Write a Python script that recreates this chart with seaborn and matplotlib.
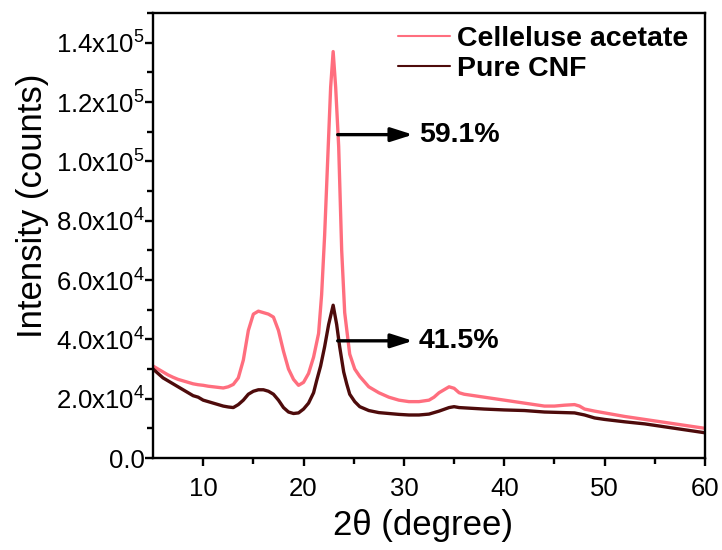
import matplotlib
matplotlib.use("Agg")
import matplotlib.pyplot as plt
import seaborn as sns
import pandas as pd

# ---------------- data ----------------
two_theta_ca = [5, 5.5, 6, 6.5, 7, 7.5, 8, 8.5, 9, 9.5, 10, 10.5, 11, 11.5, 12, 12.5, 13,
                13.5, 14, 14.5, 15, 15.5, 16, 16.5, 17, 17.5, 18, 18.5, 19, 19.5, 20, 20.5,
                21, 21.5, 21.8, 22.1, 22.4, 22.7, 22.95, 23.2, 23.5, 23.8, 24.1, 24.6, 25.1,
                25.6, 26.5, 27.5, 28.5, 29.5, 30.5, 31.5, 32.5, 33, 33.5, 34, 34.5, 35, 35.5,
                36, 37, 38, 39, 40, 41, 42, 43, 44, 45, 46, 47, 47.5, 48, 49, 50, 51, 52, 53,
                54, 55, 56, 57, 58, 59, 60]
intensity_ca = [31000, 30000, 29000, 28000, 27200, 26500, 26000, 25500, 25000, 24700, 24500,
                24200, 24000, 23800, 23600, 24000, 24800, 27000, 33000, 43000, 48500, 49500,
                49000, 48500, 47500, 43000, 36000, 30000, 26500, 24500, 25500, 28500, 34000,
                42000, 55000, 75000, 100000, 125000, 137000, 125000, 105000, 70000, 49000,
                35000, 30000, 27500, 24000, 22000, 20500, 19500, 19000, 19000, 19500, 20500,
                22000, 23000, 24000, 23500, 22000, 21500, 21000, 20500, 20000, 19500, 19000,
                18500, 18000, 17500, 17500, 17800, 18000, 17500, 16500, 15800, 15200, 14600,
                14000, 13500, 13000, 12500, 12000, 11500, 11000, 10500, 10000]

two_theta_cnf = [5, 5.5, 6, 6.5, 7, 7.5, 8, 8.5, 9, 9.5, 10, 10.5, 11, 11.5, 12, 12.5, 13,
                 13.5, 14, 14.5, 15, 15.5, 16, 16.5, 17, 17.5, 18, 18.5, 19, 19.5, 20, 20.5,
                 21, 21.3, 21.7, 22.1, 22.5, 22.95, 23.3, 23.6, 24.0, 24.3, 24.6, 25.1, 25.6,
                 26.5, 27.5, 28.5, 29.5, 30.5, 31.5, 32.5, 33.5, 34.5, 35, 35.5, 36.5, 38, 40,
                 42, 44, 46, 47, 48, 49, 50, 52, 54, 56, 58, 60]
intensity_cnf = [30000, 28500, 27000, 26000, 25000, 24000, 23000, 22000, 21000, 20500, 19500,
                 19000, 18500, 18000, 17500, 17200, 17000, 18000, 19500, 21500, 22500, 23000,
                 23000, 22500, 21500, 19500, 17000, 15500, 15000, 15200, 16500, 18500, 22000,
                 26000, 31000, 37500, 45000, 51500, 45000, 37500, 29000, 25000, 21500, 19000,
                 17300, 16000, 15300, 15000, 14700, 14500, 14500, 14800, 15800, 17000, 17300,
                 17000, 16800, 16500, 16200, 16000, 15500, 15300, 15200, 14500, 13500, 13000,
                 12200, 11500, 10500, 9500, 8500]

series_names = ["Celleluse acetate", "Pure CNF"]
y_tick_values = [0, 20000, 40000, 60000, 80000, 100000, 120000, 140000]
y_tick_labels = ["0.0", "2.0x10$^4$", "4.0x10$^4$", "6.0x10$^4$", "8.0x10$^4$",
                 "1.0x10$^5$", "1.2x10$^5$", "1.4x10$^5$"]
x_tick_values = [10, 20, 30, 40, 50, 60]
annotations = ["59.1%", "41.5%"]
annotation_y = [109000, 39500]

# ---------------- style ----------------
sns.set_theme(style="ticks")
plt.rcParams["font.family"] = ["Liberation Sans", "DejaVu Sans"]
plt.rcParams["mathtext.fontset"] = "custom"
plt.rcParams["mathtext.rm"] = "Liberation Sans"
plt.rcParams["mathtext.default"] = "regular"
plt.rcParams["text.color"] = "black"

color_ca = "#ff6e7e"
color_cnf = "#4e0b0b"

fig = plt.figure(figsize=(7.22, 5.5), dpi=100)
ax = fig.add_axes([153 / 722, 92 / 550, 552 / 722, 445 / 550])

df_ca = pd.DataFrame({"x": two_theta_ca, "y": intensity_ca})
df_cnf = pd.DataFrame({"x": two_theta_cnf, "y": intensity_cnf})
sns.lineplot(data=df_ca, x="x", y="y", ax=ax, color=color_ca, lw=2.4,
             label=series_names[0])
sns.lineplot(data=df_cnf, x="x", y="y", ax=ax, color=color_cnf, lw=2.4,
             label=series_names[1])

ax.set_xlim(5, 60)
ax.set_ylim(0, 150000)
ax.set_xticks(x_tick_values)
ax.set_xticks([15, 25, 35, 45, 55], minor=True)
ax.set_yticks(y_tick_values)
ax.set_yticklabels(y_tick_labels)
ax.set_yticks([10000, 30000, 50000, 70000, 90000, 110000, 130000, 150000], minor=True)

for s in ax.spines.values():
    s.set_linewidth(1.7)
    s.set_color("black")
ax.tick_params(which="major", direction="out", length=6, width=1.7,
               labelsize=18.5, colors="black")
ax.tick_params(which="minor", direction="out", length=4, width=1.7, colors="black")
ax.tick_params(axis="y", which="major", pad=0)
ax.tick_params(axis="x", which="major", pad=8)

ax.set_xlabel("2\u03b8 (degree)", fontsize=25, color="black")
ax.set_ylabel("Intensity (counts)", fontsize=25, color="black")
ax.xaxis.label.set_va("center")
ax.yaxis.label.set_va("center")
ax.yaxis.set_label_coords(-0.219, 0.566)
ax.xaxis.set_label_coords(0.489, -0.151)

# arrows + crystallinity labels
for txt, yv in zip(annotations, annotation_y):
    ax.annotate("", xy=(30.9, yv), xytext=(23.4, yv),
                arrowprops=dict(arrowstyle="-|>,head_length=1.1,head_width=0.35",
                                color="black", lw=2.4, shrinkA=0, shrinkB=0))
    ax.text(31.5, yv, txt, fontsize=20.5, fontweight="bold", va="center",
            ha="left", color="black")

leg = ax.legend(loc="upper right", bbox_to_anchor=(1.0, 1.01), frameon=False,
                handlelength=1.8, handletextpad=0.25, labelspacing=0.15,
                prop={"weight": "bold", "size": 20.5}, borderaxespad=0.2,
                labelcolor="black")
for h in leg.get_lines():
    h.set_linewidth(1.5)

fig.savefig("out.png", dpi=100)
